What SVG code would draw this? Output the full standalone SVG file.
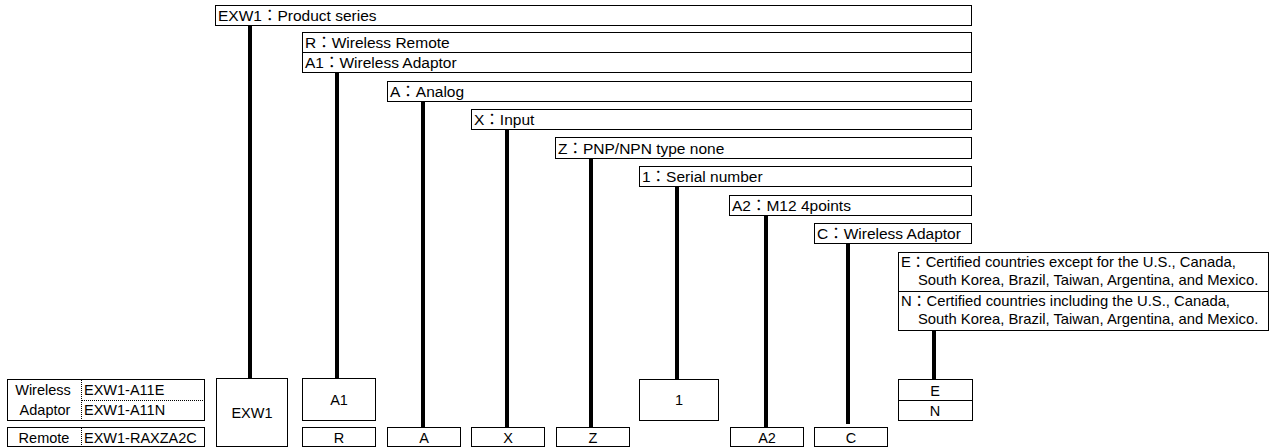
<svg xmlns="http://www.w3.org/2000/svg" width="1271" height="447" viewBox="0 0 1271 447">
<style>
text{font-family:"Liberation Sans","Noto Sans CJK JP",Arial,sans-serif;font-size:14.5px;fill:#000}
.l{font-size:15.5px}
.e{font-size:14.8px}
.b{fill:#fff;stroke:#000;stroke-width:1}
.c{stroke:#000;stroke-width:4;fill:none}
.d{stroke:#000;stroke-width:1;stroke-dasharray:1 1;fill:none}
.m{text-anchor:middle}
</style>
<rect width="1271" height="447" fill="#fff"/>
<g id="connectors">
<line class="c" x1="250" y1="25" x2="250" y2="378"/>
<line class="c" x1="337" y1="73" x2="337" y2="378"/>
<line class="c" x1="423" y1="101" x2="423" y2="427"/>
<line class="c" x1="507" y1="129" x2="507" y2="427"/>
<line class="c" x1="591" y1="158" x2="591" y2="427"/>
<line class="c" x1="677" y1="186" x2="677" y2="379"/>
<line class="c" x1="766" y1="215" x2="766" y2="427"/>
<line class="c" x1="848" y1="243" x2="848" y2="424"/>
<line class="c" x1="934" y1="330" x2="934" y2="379"/>
</g>
<g id="lbl-exw1"><rect class="b" x="215.5" y="5.5" width="756" height="20"/><text class="l" x="218" y="21">EXW1：Product series</text></g>
<g id="lbl-r"><rect class="b" x="302.5" y="32.5" width="669" height="20"/><text class="l" x="305" y="48">R：Wireless Remote</text></g>
<g id="lbl-a1"><rect class="b" x="302.5" y="52.5" width="669" height="20"/><text class="l" x="305" y="68">A1：Wireless Adaptor</text></g>
<g id="lbl-a"><rect class="b" x="387.5" y="81.5" width="584" height="20"/><text class="l" x="390" y="97">A：Analog</text></g>
<g id="lbl-x"><rect class="b" x="471.5" y="109.5" width="500" height="20"/><text class="l" x="474" y="125">X：Input</text></g>
<g id="lbl-z"><rect class="b" x="555.5" y="137.5" width="416" height="21"/><text class="l" x="558" y="154">Z：PNP/NPN type none</text></g>
<g id="lbl-1"><rect class="b" x="639.5" y="166.5" width="332" height="20"/><text class="l" x="642" y="182">1：Serial number</text></g>
<g id="lbl-a2"><rect class="b" x="729.5" y="195.5" width="242" height="20"/><text class="l" x="732" y="211">A2：M12 4points</text></g>
<g id="lbl-c"><rect class="b" x="814.5" y="223.5" width="157" height="20"/><text class="l" x="817" y="239">C：Wireless Adaptor</text></g>
<g id="lbl-en">
<rect class="b" x="898.5" y="252.5" width="370" height="39"/>
<rect class="b" x="898.5" y="291.5" width="370" height="39"/>
<text class="e" x="901" y="267">E：Certified countries except for the U.S., Canada,</text>
<text class="e" x="918" y="285">South Korea, Brazil, Taiwan, Argentina, and Mexico.</text>
<text class="e" x="901" y="306">N：Certified countries including the U.S., Canada,</text>
<text class="e" x="918" y="324">South Korea, Brazil, Taiwan, Argentina, and Mexico.</text>
</g>
<g id="tbl-adaptor">
<rect class="b" x="7.5" y="379.5" width="197" height="41"/>
<line class="d" x1="81.5" y1="380" x2="81.5" y2="420"/>
<line class="d" x1="82" y1="400.5" x2="204" y2="400.5"/>
<text class="m" x="43" y="395">Wireless</text>
<text class="m" x="45" y="415">Adaptor</text>
<text x="84" y="395">EXW1-A11E</text>
<text x="84" y="415">EXW1-A11N</text>
</g>
<g id="tbl-remote">
<rect class="b" x="7.5" y="427.5" width="197" height="19"/>
<line class="d" x1="81.5" y1="428" x2="81.5" y2="446"/>
<text class="m" x="44" y="443">Remote</text>
<text x="84" y="443">EXW1-RAXZA2C</text>
</g>
<g id="box-exw1"><rect class="b" x="216.5" y="378.5" width="71" height="68"/><text class="m" x="252" y="418">EXW1</text></g>
<g id="box-a1"><rect class="b" x="302.5" y="378.5" width="73" height="42"/><text class="m" x="339" y="405">A1</text></g>
<g id="box-r"><rect class="b" x="302.5" y="427.5" width="73" height="19"/><text class="m" x="339" y="443">R</text></g>
<g id="box-a"><rect class="b" x="387.5" y="427.5" width="73" height="19"/><text class="m" x="424" y="443">A</text></g>
<g id="box-x"><rect class="b" x="471.5" y="427.5" width="73" height="19"/><text class="m" x="508" y="443">X</text></g>
<g id="box-z"><rect class="b" x="556.5" y="427.5" width="73" height="19"/><text class="m" x="593" y="443">Z</text></g>
<g id="box-1"><rect class="b" x="639.5" y="379.5" width="79" height="41"/><text class="m" x="679" y="405">1</text></g>
<g id="box-a2"><rect class="b" x="730.5" y="427.5" width="73" height="19"/><text class="m" x="767" y="443">A2</text></g>
<g id="box-c"><rect class="b" x="814.5" y="427.5" width="73" height="19"/><text class="m" x="851" y="443">C</text></g>
<g id="box-en">
<rect class="b" x="898.5" y="379.5" width="74" height="21"/>
<rect class="b" x="898.5" y="400.5" width="74" height="20"/>
<text class="m" x="935" y="396">E</text>
<text class="m" x="935" y="416">N</text>
</g>
</svg>
